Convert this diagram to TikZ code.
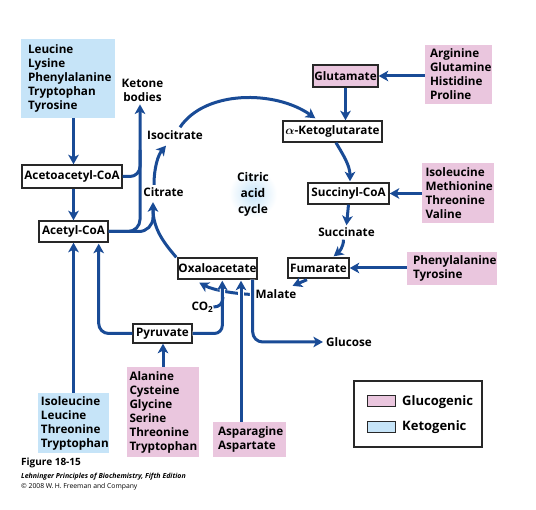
\documentclass[tikz,border=0pt]{standalone}
\usepackage{fontspec}
\setmainfont{Open Sans}
\usetikzlibrary{arrows.meta,calc}
\definecolor{arrblue}{RGB}{25,75,150}
\definecolor{pinkfill}{RGB}{234,198,222}
\definecolor{bluefill}{RGB}{198,228,248}
\definecolor{boxline}{RGB}{40,40,40}
\begin{document}
\begin{tikzpicture}[x=1pt,y=-1pt,
  lbl/.style={font=\fontsize{11.7}{14}\selectfont\bfseries, inner sep=0pt},
  cbox/.style={font=\fontsize{11.7}{14}\selectfont\bfseries, draw=boxline, line width=1.4pt, fill=white, inner sep=0pt},
  aabox/.style={font=\fontsize{11.7}{14}\selectfont\bfseries, align=left, inner ysep=0pt},
  arr/.style={draw=arrblue, line width=3pt, -{Stealth[length=9.5pt,width=10.5pt,inset=2.5pt]}},
  ln/.style={draw=arrblue, line width=3pt},
  gap/.style={preaction={draw=white, line width=5.5pt}},
]
\useasboundingbox (0,0) rectangle (536,510);
\fill[white] (0,0) rectangle (536,510);
\shade[inner color=bluefill, outer color=white] (253,194) circle (24);

% amino acid boxes
\node[aabox, fill=bluefill, minimum width=94pt, minimum height=79pt, text width=80pt, inner xsep=7pt] (k1) at (68,78.5) {Leucine\\Lysine\\Phenylalanine\\Tryptophan\\Tyrosine};
\node[aabox, fill=pinkfill, minimum width=67pt, minimum height=59pt, text width=57pt, inner xsep=5pt] (p1) at (458.5,74.5) {Arginine\\Glutamine\\Histidine\\Proline};
\node[aabox, fill=pinkfill, minimum width=72pt, minimum height=60pt, text width=65pt, inner xsep=3.5pt] (p2) at (458,193) {Isoleucine\\Methionine\\Threonine\\Valine};
\node[aabox, fill=pinkfill, minimum width=90pt, minimum height=33pt, text width=78pt, inner xsep=6pt] (p3) at (452,268.5) {Phenylalanine\\Tyrosine};
\node[aabox, fill=pinkfill, minimum width=72pt, minimum height=90pt, text width=67pt, inner xsep=2.5pt] (p4) at (163,412) {Alanine\\Cysteine\\Glycine\\Serine\\Threonine\\Tryptophan};
\node[aabox, fill=bluefill, minimum width=71pt, minimum height=60pt, text width=65pt, inner xsep=3pt] (k2) at (73.5,423) {Isoleucine\\Leucine\\Threonine\\Tryptophan};
\node[aabox, fill=pinkfill, minimum width=73pt, minimum height=35pt, text width=63pt, inner xsep=5pt] (p5) at (249.5,439.5) {Asparagine\\Aspartate};

% metabolite boxes
\node[cbox, minimum width=100pt, minimum height=23pt] (aca) at (72,176.5) {Acetoacetyl-CoA};
\node[cbox, minimum width=69pt, minimum height=21pt] (acetyl) at (73.5,231.5) {Acetyl-CoA};
\node[cbox, fill=pinkfill, minimum width=65pt, minimum height=22pt] (glu) at (345.5,76) {Glutamate};
\node[cbox, minimum width=99pt, minimum height=21pt] (akg) at (332.5,131.5) {{\boldmath$\alpha$}-Ketoglutarate};
\node[cbox, minimum width=81pt, minimum height=21pt] (succ) at (348.5,193.5) {Succinyl-CoA};
\node[cbox, minimum width=61pt, minimum height=20pt] (fum) at (318.5,268) {Fumarate};
\node[cbox, minimum width=79pt, minimum height=21pt] (oxa) at (217.5,268.5) {Oxaloacetate};
\node[cbox, minimum width=59pt, minimum height=19pt] (pyr) at (162.5,333.5) {Pyruvate};

% plain labels
\node[lbl, align=center] (ketone) at (142.5,90) {Ketone\\bodies};
\node[lbl] (isocit) at (175,135) {Isocitrate};
\node[lbl] (citrate) at (163.5,192.5) {Citrate};
\node[lbl, align=center, font=\fontsize{12}{16}\selectfont\bfseries] (cac) at (253,194) {Citric\\acid\\cycle};
\node[lbl] (succinate) at (346.5,232) {Succinate};
\node[lbl] (malate) at (276,294.5) {Malate};
\node[lbl] (co2) at (202.5,307) {CO\textsubscript{2}};
\node[lbl] (glucose) at (349,342) {Glucose};

% legend
\node[draw=boxline, line width=1.4pt, minimum width=128pt, minimum height=66pt, inner sep=0pt] (legend) at (418,414) {};
\node[draw=boxline, line width=1pt, fill=pinkfill, minimum width=28pt, minimum height=11pt, inner sep=0pt] (sw1) at (381,401.5) {};
\node[draw=boxline, line width=1pt, fill=bluefill, minimum width=28pt, minimum height=11pt, inner sep=0pt] (sw2) at (381,427) {};
\node[lbl, anchor=west, font=\fontsize{13}{15}\selectfont\bfseries] (lg1) at (402,402) {Glucogenic};
\node[lbl, anchor=west, font=\fontsize{13}{15}\selectfont\bfseries] (lg2) at (402,427) {Ketogenic};

% caption
\node[anchor=west, inner sep=0pt, font=\fontsize{10}{12}\selectfont\bfseries] (fig) at (21,463) {Figure 18-15};
\node[anchor=west, inner sep=0pt, font=\fontsize{7}{8}\selectfont\bfseries\itshape] (book) at (21,477) {Lehninger Principles of Biochemistry, Fifth Edition};
\node[anchor=west, inner sep=0pt, font=\fontsize{6.8}{8}\selectfont] (copy) at (21,487) {\textcopyright\ 2008 W.\,H.\ Freeman and Company};

% connectors
\draw[arr] (k1.south -| acetyl.north) -- (acetyl.north |- aca.north);
\draw[arr] (acetyl.north |- aca.south) -- (acetyl.north);
\draw[ln, rounded corners=10pt] (aca.east) -- (140,176.5) -- (140,150);
\draw[arr, rounded corners=12pt] (acetyl.east) -- (140,231.5) -- ($(ketone.south)+(-2.5,3)$);
\draw[ln, rounded corners=14pt] (acetyl.east) -- (153,231.5) -- (153,205);
\draw[arr] ($(oxa.north west)+(-1,0)$) .. controls (163,242) and (153,228) .. ($(citrate.south)+(-10.5,5)$);
\draw[arr] ($(citrate.north)+(-9.5,-3)$) .. controls (154,168) and (158,155) .. ($(isocit.south)+(-9,6)$);
\draw[arr] ($(isocit.north)+(5,-3)$) .. controls (205,90) and (275,90) .. ($(akg.north west)+(33,-2)$);
\draw[arr] (glu.south) -- (glu.south |- akg.north);
\draw[arr] (p1.west |- glu.east) -- (glu.east);
\draw[arr] ($(akg.south)+(3.5,0)$) .. controls (342,153) and (350,165) .. ($(succ.north)+(1.5,-1)$);
\draw[arr] (p2.west |- succ.east) -- (succ.east);
\draw[arr] (succ.south) -- ($(succinate.north)+(0,-2)$);
\draw[arr] ($(succinate.south)+(-3,3)$) .. controls (343.5,247) and (339,252) .. ($(fum.north east)+(-16,-1)$);
\draw[arr] (p3.west |- fum.east) -- (fum.east);
\draw[arr] ($(fum.south)+(-11.5,1)$) -- ($(malate.north east)+(-4,-4)$);
\draw[arr] ($(malate.west)+(-2,0)$) .. controls (235,294) and (213,290) .. ($(oxa.south west)+(22,3)$);
\draw[arr, gap, rounded corners=8pt] (pyr.east) -| ($(oxa.south west)+(45,1)$);
\draw[arr, gap] ($(p5.north)+(-8.5,0)$) -- ($(oxa.south)+(23.5,1)$);
\draw[arr, gap, rounded corners=10pt] ($(oxa.south east)+(-5,0)$) |- ($(glucose.west)+(-3,0)$);
\draw[ln] (co2.east) .. controls (219,307) and (223,304) .. (223,297);
\draw[arr, rounded corners=10pt] (pyr.west) -| ($(acetyl.south east)+(-10,1)$);
\draw[arr] (k2.north) -- (k2.north |- acetyl.south);
\draw[arr] (p4.north) -- (p4.north |- pyr.south);
\end{tikzpicture}
\end{document}
